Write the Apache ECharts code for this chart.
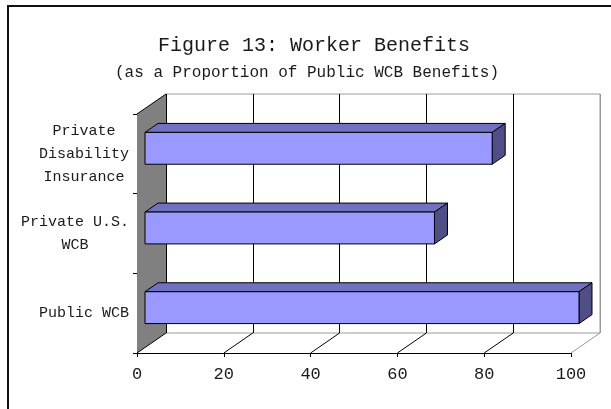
<!DOCTYPE html>
<html>
<head>
<meta charset="utf-8">
<title>Figure 13: Worker Benefits</title>
<script src="https://cdn.jsdelivr.net/npm/echarts@6/dist/echarts.min.js"></script>
<style>
  html, body { margin: 0; padding: 0; background: #fff; }
  #chart { width: 611px; height: 409px; }
</style>
</head>
<body>
<div id="chart"></div>
<script>
// Categories listed bottom to top, as the category axis runs upward.
const categories = ['Public WCB', 'Private U.S.\nWCB', 'Private\nDisability\nInsurance'];
const benefitValues = [100, 66.7, 80];
const valueTicks = [0, 20, 40, 60, 80, 100];

// 3D look: offset between the front plane and the back wall.
const DEPTH_X = 29, DEPTH_Y = -20;
// Bars sit in the middle of the depth.
const BAR_FRONT = 8 / 29, BAR_DEPTH = 13 / 29;

const FRONT = { left: 137, top: 114, width: 434, height: 239 };
const FONT = 'Liberation Mono';
const TEXT = '#1a1a1a';
const CAT_FONT_SIZE = 15;
const CHAR_W = CAT_FONT_SIZE * 0.6; // monospace advance

// Category labels: each multi-line block is right-aligned at the axis,
// with its lines centred inside the block.
const catRich = {};
categories.forEach(c => {
  const n = Math.max(...c.split('\n').map(s => s.length));
  catRich['w' + n] = { width: n * CHAR_W, align: 'center', fontFamily: FONT,
    fontSize: CAT_FONT_SIZE, lineHeight: 23, color: TEXT };
});
function catFormatter(value) {
  const lines = value.split('\n');
  const n = Math.max(...lines.map(s => s.length));
  return lines.map(s => '{w' + n + '|' + s + '}').join('\n');
}

const chart = echarts.init(document.getElementById('chart'), null, { renderer: 'canvas' });

function renderWall(params, api) {
  const cs = params.coordSys;
  const x = cs.x, y = cs.y, h = cs.height;
  return {
    type: 'group',
    children: [
      { type: 'polygon', shape: { points: [[x, y], [x + DEPTH_X, y + DEPTH_Y], [x + DEPTH_X, y + h + DEPTH_Y], [x, y + h]] },
        style: { fill: '#808080' } },
      { type: 'line', shape: { x1: x, y1: y, x2: x + DEPTH_X, y2: y + DEPTH_Y },
        style: { stroke: '#000', lineWidth: 1 } }
    ]
  };
}

function renderFloorLine(params, api) {
  const cs = params.coordSys;
  const t = api.value(0);
  const p = api.coord([t, 0]);
  const yb = cs.y + cs.height;
  const last = t === valueTicks[valueTicks.length - 1];
  return {
    type: 'line',
    shape: { x1: p[0], y1: yb, x2: p[0] + DEPTH_X, y2: yb + DEPTH_Y },
    style: { stroke: last ? '#9a9a9a' : '#000', lineWidth: 1 }
  };
}

function renderBar(params, api) {
  const v = api.value(0);
  const i = api.value(1);
  const start = api.coord([0, i]);
  const end = api.coord([v, i]);
  const band = api.size([0, 1])[1];
  const h = band * 0.4;
  const fx = DEPTH_X * BAR_FRONT, fy = DEPTH_Y * BAR_FRONT;
  const dx = DEPTH_X * BAR_DEPTH, dy = DEPTH_Y * BAR_DEPTH;
  const x0 = start[0] + fx, x1 = end[0] + fx;
  const yT = start[1] + fy - h / 2, yB = yT + h;
  const edge = { stroke: '#000', lineWidth: 1, lineJoin: 'miter' };
  return {
    type: 'group',
    children: [
      { type: 'polygon', shape: { points: [[x0, yT], [x0 + dx, yT + dy], [x1 + dx, yT + dy], [x1, yT]] },
        style: Object.assign({ fill: '#7171c4' }, edge) },
      { type: 'polygon', shape: { points: [[x1, yT], [x1 + dx, yT + dy], [x1 + dx, yB + dy], [x1, yB]] },
        style: Object.assign({ fill: '#4f4f85' }, edge) },
      { type: 'rect', shape: { x: x0, y: yT, width: x1 - x0, height: h },
        style: Object.assign({ fill: '#9999ff' }, edge) }
    ]
  };
}

const splitColors = valueTicks.map((t, k) => (k === valueTicks.length - 1 ? '#9a9a9a' : '#000'));

chart.setOption({
  animation: false,
  backgroundColor: '#fff',
  title: [
    { text: 'Figure 13: Worker Benefits', left: 309, top: 31, textAlign: 'center',
      textStyle: { fontFamily: FONT, fontSize: 20, fontWeight: 'normal', color: TEXT } },
    { text: '(as a Proportion of Public WCB Benefits)', left: 302, top: 60, textAlign: 'center',
      textStyle: { fontFamily: FONT, fontSize: 16, fontWeight: 'normal', color: TEXT } }
  ],
  grid: [
    Object.assign({ containLabel: false }, FRONT),
    { left: FRONT.left + DEPTH_X, top: FRONT.top + DEPTH_Y, width: FRONT.width, height: FRONT.height,
      show: true, borderColor: '#9a9a9a', borderWidth: 1, backgroundColor: 'transparent' }
  ],
  xAxis: [
    { type: 'value', gridIndex: 0, min: 0, max: 100, interval: 20,
      axisLine: { show: true, lineStyle: { color: '#000', width: 1 } },
      axisTick: { show: true, length: 4, lineStyle: { color: '#000' } },
      axisLabel: { margin: 13, fontFamily: FONT, fontSize: 17, color: TEXT },
      splitLine: { show: false } },
    { type: 'value', gridIndex: 1, min: 0, max: 100, interval: 20,
      axisLine: { show: false }, axisTick: { show: false }, axisLabel: { show: false },
      splitLine: { show: true, lineStyle: { color: splitColors, width: 1 } } }
  ],
  yAxis: [
    { type: 'category', gridIndex: 0, data: categories,
      axisLine: { show: true, lineStyle: { color: '#000', width: 1 } },
      axisTick: { show: true, length: 4, lineStyle: { color: '#000' } },
      axisLabel: { margin: 8, fontFamily: FONT, fontSize: CAT_FONT_SIZE, lineHeight: 23, color: TEXT,
        align: 'right', formatter: catFormatter, rich: catRich },
      splitLine: { show: false } },
    { type: 'category', gridIndex: 1, data: categories, show: false }
  ],
  graphic: [
    { type: 'rect', shape: { x: 8, y: 6, width: 640, height: 440 },
      style: { fill: 'none', stroke: '#111', lineWidth: 2 }, silent: true, z: 100 }
  ],
  series: [
    { type: 'custom', xAxisIndex: 0, yAxisIndex: 0, data: [[0, 0]], renderItem: renderWall, z: 1, silent: true },
    { type: 'custom', xAxisIndex: 0, yAxisIndex: 0, data: valueTicks.map(t => [t, 0]), renderItem: renderFloorLine, z: 1, silent: true },
    { type: 'custom', name: 'Benefits', xAxisIndex: 0, yAxisIndex: 0,
      data: benefitValues.map((v, i) => [v, i]), renderItem: renderBar, z: 3,
      encode: { x: 0, y: 1 } }
  ]
});
</script>
</body>
</html>
